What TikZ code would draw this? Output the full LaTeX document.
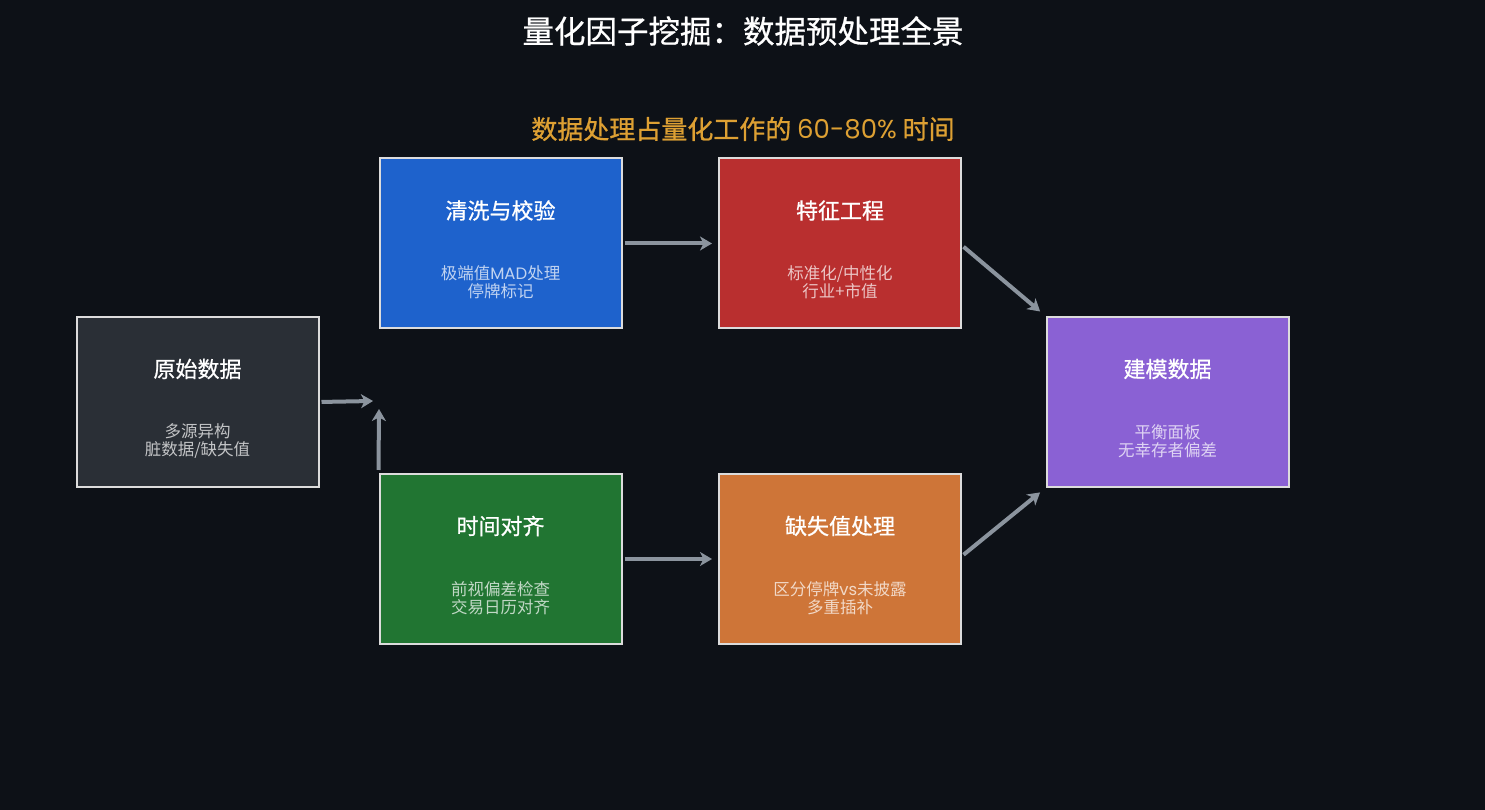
\documentclass[tikz,border=0pt]{standalone}
\usepackage{fontspec}
\setmainfont{Noto Sans CJK SC}
\newfontfamily\cjkmed[FakeBold=0.8]{Noto Sans CJK SC}
\newfontfamily\lat{Poppins}
\usetikzlibrary{arrows.meta}
\definecolor{bg}{HTML}{0D1117}
\definecolor{arrowc}{HTML}{8B949E}
\definecolor{gold}{HTML}{DDA033}
\definecolor{rawc}{HTML}{2A2F36}
\definecolor{cleanc}{HTML}{1E62CC}
\definecolor{featc}{HTML}{B92F2F}
\definecolor{timec}{HTML}{217532}
\definecolor{missc}{HTML}{CE7538}
\definecolor{modelc}{HTML}{8A61D4}
\definecolor{borderc}{HTML}{DCDCDC}
\tikzset{
  stagebox/.style={draw=borderc, line width=2pt, minimum width=242pt, minimum height=170pt, inner sep=0pt},
  stagetitle/.style={text=white, font=\cjkmed\fontsize{22}{26}\selectfont, inner sep=0pt},
  stagesub/.style={text=white, text opacity=0.72, font=\fontsize{16.5}{18}\selectfont, align=center, inner sep=0pt},
  flow/.style={draw=arrowc, line width=4pt, -{Stealth[length=12pt,width=14pt,inset=3.5pt]}},
}
\begin{document}
\begin{tikzpicture}[x=1pt,y=1pt]
\fill[bg] (0,0) rectangle (1485,810);
\useasboundingbox (0,0) rectangle (1485,810);

\node[text=white, font=\cjkmed\fontsize{31.5}{36}\selectfont, inner sep=0pt] (title) at (743,779) {量化因子挖掘：数据预处理全景};
\node[text=gold, font=\cjkmed\fontsize{26}{30}\selectfont, inner sep=0pt] (subtitle) at (743,681) {数据处理占量化工作的 {\lat 60-80\%} 时间};

\node[stagebox, fill=rawc] (raw) at (197.5,408) {};
\node[stagebox, fill=cleanc] (clean) at (500.5,566.5) {};
\node[stagebox, fill=featc] (feat) at (840,566.5) {};
\node[stagebox, fill=timec] (time) at (500.5,251) {};
\node[stagebox, fill=missc] (miss) at (840,251) {};
\node[stagebox, fill=modelc] (model) at (1167.5,408) {};

\node[stagetitle] (rawT) at ([yshift=33pt]raw.center) {原始数据};
\node[stagesub] (rawS) at ([yshift=-39pt]raw.center) {多源异构\\脏数据/缺失值};
\node[stagetitle] (cleanT) at ([yshift=33pt]clean.center) {清洗与校验};
\node[stagesub] (cleanS) at ([yshift=-39pt]clean.center) {极端值{\lat MAD}处理\\停牌标记};
\node[stagetitle] (featT) at ([yshift=33pt]feat.center) {特征工程};
\node[stagesub] (featS) at ([yshift=-39pt]feat.center) {标准化/中性化\\行业+市值};
\node[stagetitle] (timeT) at ([yshift=33pt]time.center) {时间对齐};
\node[stagesub] (timeS) at ([yshift=-39pt]time.center) {前视偏差检查\\交易日历对齐};
\node[stagetitle] (missT) at ([yshift=33pt]miss.center) {缺失值处理};
\node[stagesub] (missS) at ([yshift=-39pt]miss.center) {区分停牌{\lat vs}未披露\\多重插补};
\node[stagetitle] (modelT) at ([yshift=33pt]model.center) {建模数据};
\node[stagesub] (modelS) at ([yshift=-39pt]model.center) {平衡面板\\无幸存者偏差};

\coordinate (j1) at (373,409);
\coordinate (j2) at (379,401);
\draw[flow, shorten <=2pt] (raw.east) -- (j1);
\draw[flow] ([yshift=3pt]time.north west) -- (j2);
\draw[flow, shorten <=2pt, shorten >=6pt] (clean.east) -- (feat.west);
\draw[flow, shorten <=2pt, shorten >=6pt] (time.east) -- (miss.west);
\draw[flow, shorten <=2pt, shorten >=7pt] ([yshift=-2pt]feat.east) -- (model.north west);
\draw[flow, shorten <=2pt, shorten >=7pt] ([yshift=3pt]miss.east) -- (model.south west);
\end{tikzpicture}
\end{document}
